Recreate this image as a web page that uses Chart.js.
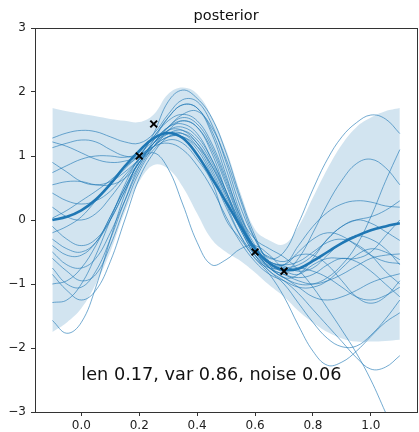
<!DOCTYPE html>
<html>
<head>
<meta charset="utf-8">
<script src="https://cdn.jsdelivr.net/npm/chart.js@4"></script>
<style>
  body { margin: 0; background: #fff; }
  #wrap { width: 419px; height: 432px; overflow: hidden; }
</style>
</head>
<body>
<div id="wrap"><canvas id="gp" width="424" height="432"></canvas></div>
<script>
// x grid the curves were read on
const xs = [-0.1, -0.05, 0, 0.05, 0.1, 0.15, 0.2, 0.25, 0.3, 0.35, 0.4, 0.45, 0.5, 0.55, 0.6, 0.65, 0.7, 0.75, 0.8, 0.85, 0.9, 0.95, 1.0, 1.05, 1.1];

const meanY  = [0.0, 0.05, 0.15, 0.32, 0.56, 0.84, 1.08, 1.28, 1.36, 1.28, 1.02, 0.66, 0.28, -0.1, -0.45, -0.68, -0.78, -0.76, -0.64, -0.5, -0.36, -0.25, -0.16, -0.1, -0.05];
const upperY = [1.75, 1.7, 1.66, 1.62, 1.58, 1.55, 1.53, 1.65, 1.97, 2.07, 1.97, 1.62, 1.1, 0.42, -0.15, -0.32, -0.38, -0.1, 0.35, 0.8, 1.18, 1.45, 1.6, 1.7, 1.75];
const lowerY = [-1.75, -1.6, -1.38, -1.0, -0.5, 0.12, 0.6, 0.86, 0.8, 0.52, 0.1, -0.3, -0.5, -0.64, -0.82, -1.02, -1.2, -1.42, -1.6, -1.75, -1.85, -1.9, -1.9, -1.89, -1.87];

// posterior samples
const s01 = [1.28, 1.36, 1.4, 1.38, 1.3, 1.22, 1.2, 1.35, 1.65, 1.88, 1.85, 1.5, 0.9, 0.2, -0.3, -0.6, -0.5, -0.05, 0.48, 0.95, 1.3, 1.52, 1.64, 1.58, 1.35];
const s02 = [1.22, 1.15, 1.05, 0.95, 0.9, 0.92, 1.0, 1.2, 1.45, 1.6, 1.5, 1.15, 0.6, 0.0, -0.45, -0.75, -0.85, -0.95, -1.0, -0.95, -0.85, -0.72, -0.6, -0.55, -0.53];
const s03 = [1.13, 1.2, 1.25, 1.22, 1.1, 1.0, 1.0, 1.15, 1.4, 1.55, 1.45, 1.05, 0.45, -0.1, -0.5, -0.68, -0.7, -0.4, -0.1, 0.12, 0.25, 0.3, 0.28, 0.22, 0.2];
const s04 = [0.74, 0.85, 0.95, 1.0, 1.0, 0.98, 1.05, 1.3, 1.6, 1.8, 1.75, 1.35, 0.7, 0.05, -0.3, -0.45, -0.58, -0.78, -1.05, -1.38, -1.72, -2.08, -2.5, -3.0, -3.5];
const s05 = [0.42, 0.3, 0.25, 0.3, 0.45, 0.7, 0.95, 1.2, 1.45, 1.65, 1.7, 1.45, 0.95, 0.3, -0.3, -0.65, -0.8, -0.6, -0.2, 0.25, 0.62, 0.88, 0.95, 0.82, 0.55];
const s06 = [0.2, 0.05, 0.0, 0.1, 0.35, 0.65, 0.95, 1.2, 1.35, 1.35, 1.15, 0.75, 0.25, -0.25, -0.6, -0.75, -0.75, -0.7, -0.55, -0.3, -0.1, 0.0, -0.05, -0.18, -0.32];
const s07 = [0.03, 0.15, 0.3, 0.45, 0.62, 0.82, 1.02, 1.25, 1.45, 1.55, 1.45, 1.1, 0.55, -0.02, -0.45, -0.65, -0.7, -0.5, -0.3, -0.2, -0.25, -0.4, -0.55, -0.65, -0.68];
const s08 = [-0.1, -0.3, -0.4, -0.3, 0.0, 0.45, 0.9, 1.05, 0.8, 0.25, -0.35, -0.7, -0.62, -0.45, -0.4, -0.55, -0.75, -0.75, -0.8, -0.9, -1.05, -1.2, -1.25, -1.18, -1.05];
const s09 = [-0.3, -0.45, -0.5, -0.35, 0.0, 0.45, 0.85, 1.15, 1.35, 1.4, 1.25, 0.9, 0.4, -0.1, -0.5, -0.72, -0.8, -0.85, -0.7, -0.6, -0.6, -0.6, -0.5, -0.25, 0.0];
const s10 = [-0.5, -0.7, -0.75, -0.6, -0.2, 0.3, 0.8, 1.15, 1.4, 1.45, 1.3, 0.95, 0.45, -0.05, -0.42, -0.58, -0.65, -0.55, -0.55, -0.7, -0.95, -1.2, -1.3, -1.2, -0.95];
const s11 = [-0.6, -0.8, -0.95, -0.85, -0.4, 0.2, 0.75, 1.1, 1.25, 1.2, 0.95, 0.6, 0.0, -0.3, -0.6, -0.85, -1.2, -1.65, -2.05, -2.27, -2.22, -2.05, -1.82, -1.6, -1.45];
const s12 = [-0.75, -1.0, -1.05, -0.8, -0.3, 0.3, 0.85, 1.2, 1.4, 1.4, 1.2, 0.8, 0.3, -0.15, -0.55, -0.8, -1.0, -1.3, -1.6, -1.85, -1.98, -1.97, -1.8, -1.55, -1.25];
const s13 = [-0.85, -1.1, -1.25, -1.1, -0.65, 0.0, 0.65, 1.05, 1.3, 1.35, 1.2, 0.85, 0.35, -0.15, -0.55, -0.8, -0.95, -1.15, -1.4, -1.65, -1.9, -2.15, -2.33, -2.3, -2.12];
const s14 = [-1.0, -0.95, -0.75, -0.4, 0.05, 0.5, 0.9, 1.15, 1.3, 1.3, 1.15, 0.85, 0.4, -0.1, -0.5, -0.75, -0.9, -1.0, -1.0, -0.9, -0.7, -0.4, 0.05, 0.6, 1.1];
const s15 = [-1.29, -1.25, -1.0, -0.55, 0.0, 0.55, 0.98, 1.3, 1.55, 1.65, 1.55, 1.2, 0.65, 0.05, -0.45, -0.75, -0.9, -1.05, -1.2, -1.25, -1.2, -1.1, -0.98, -0.9, -0.84];
const s16 = [-1.57, -1.77, -1.6, -1.05, -0.3, 0.4, 0.95, 1.35, 1.85, 2.03, 1.9, 1.6, 1.05, 0.35, -0.25, -0.7, -0.9, -0.85, -0.6, -0.3, -0.1, 0.0, 0.05, 0.15, 0.3];
const s17 = [0.9, 0.75, 0.6, 0.55, 0.6, 0.75, 0.95, 1.15, 1.3, 1.3, 1.1, 0.7, 0.2, -0.25, -0.55, -0.75, -0.85, -0.9, -0.85, -0.7, -0.6, -0.65, -0.8, -1.0, -1.2];
const s18 = [0.55, 0.6, 0.6, 0.55, 0.55, 0.65, 0.9, 1.25, 1.6, 1.8, 1.75, 1.4, 0.8, 0.1, -0.4, -0.65, -0.7, -0.65, -0.5, -0.35, -0.3, -0.38, -0.55, -0.8, -1.0];
const s19 = [-0.2, -0.1, 0.05, 0.3, 0.55, 0.8, 1.0, 1.15, 1.2, 1.1, 0.85, 0.5, 0.05, -0.35, -0.65, -0.85, -0.95, -1.05, -1.05, -0.95, -0.75, -0.55, -0.45, -0.5, -0.62];
const s20 = [-0.4, -0.55, -0.55, -0.35, 0.05, 0.5, 0.9, 1.2, 1.45, 1.5, 1.35, 0.95, 0.45, -0.05, -0.45, -0.65, -0.72, -0.8, -0.75, -0.55, -0.35, -0.25, -0.3, -0.45, -0.7];
const samples = [s01, s02, s03, s04, s05, s06, s07, s08, s09, s10, s11, s12, s13, s14, s15, s16, s17, s18, s19, s20];

// training points
const obsX = [0.2, 0.25, 0.6, 0.7];
const obsY = [1.0, 1.5, -0.5, -0.8];

const xTicks = [0.0, 0.2, 0.4, 0.6, 0.8, 1.0];
const yTicks = [-3, -2, -1, 0, 1, 2, 3];

const titleText = "posterior";
const infoText = "len 0.17, var 0.86, noise 0.06";

const blue = "#1f77b4";
const pts = (ys) => xs.map((x, i) => ({ x: x, y: ys[i] }));

const datasets = [];

// points on top
datasets.push({
  type: "scatter",
  data: obsX.map((x, i) => ({ x: x, y: obsY[i] })),
  pointStyle: "crossRot",
  pointRadius: 4.8,
  pointBorderWidth: 2,
  pointBorderColor: "#000",
  pointBackgroundColor: "#000",
  showLine: false,
  order: 0
});

// mean
datasets.push({
  data: pts(meanY),
  borderColor: blue,
  borderWidth: 2.6,
  pointRadius: 0,
  tension: 0.4,
  fill: false,
  order: 1
});

// samples
samples.forEach((s) => {
  datasets.push({
    data: pts(s),
    borderColor: "rgba(31,119,180,0.62)",
    borderWidth: 1,
    pointRadius: 0,
    tension: 0.4,
    fill: false,
    order: 2
  });
});

// band: upper fills down to lower
datasets.push({
  data: pts(upperY),
  borderWidth: 0,
  borderColor: "rgba(0,0,0,0)",
  backgroundColor: "rgba(31,119,180,0.2)",
  pointRadius: 0,
  tension: 0.4,
  fill: "+1",
  order: 3
});
datasets.push({
  data: pts(lowerY),
  borderWidth: 0,
  borderColor: "rgba(0,0,0,0)",
  pointRadius: 0,
  tension: 0.4,
  fill: false,
  order: 4
});

// title, top/right spines and the parameter text
const extras = {
  id: "extras",
  afterDraw(chart) {
    const { ctx, chartArea: a, scales } = chart;
    ctx.save();
    ctx.strokeStyle = "#333";
    ctx.lineWidth = 1;
    ctx.beginPath();
    ctx.moveTo(a.left, Math.round(a.top) + 0.5);
    ctx.lineTo(a.right, Math.round(a.top) + 0.5);
    ctx.moveTo(Math.round(a.right) + 0.5, a.top);
    ctx.lineTo(Math.round(a.right) + 0.5, a.bottom);
    ctx.stroke();

    ctx.fillStyle = "#111";
    ctx.font = "14.5px 'DejaVu Sans'";
    ctx.textAlign = "center";
    ctx.textBaseline = "alphabetic";
    ctx.fillText(titleText, (a.left + a.right) / 2, a.top - 8);

    ctx.font = "17.7px 'DejaVu Sans'";
    ctx.textAlign = "left";
    ctx.fillText(infoText, scales.x.getPixelForValue(0), scales.y.getPixelForValue(-2.5));
    ctx.restore();
  }
};

new Chart(document.getElementById("gp"), {
  type: "line",
  data: { datasets: datasets },
  options: {
    responsive: false,
    animation: false,
    devicePixelRatio: 1,
    layout: { padding: { top: 28, right: 3, left: 0, bottom: 0 } },
    plugins: { legend: { display: false }, tooltip: { enabled: false }, title: { display: false } },
    scales: {
      x: {
        type: "linear",
        min: -0.16,
        max: 1.16,
        afterBuildTicks: (ax) => { ax.ticks = xTicks.map((v) => ({ value: v })); },
        afterFit: (ax) => { ax.height = 20; },
        ticks: {
          autoSkip: false,
          maxRotation: 0,
          padding: 3,
          color: "#222",
          font: { family: "DejaVu Sans", size: 12 },
          callback: (v) => v.toFixed(1)
        },
        grid: { drawOnChartArea: false, tickLength: 4, tickColor: "#333" },
        border: { color: "#333", width: 1 }
      },
      y: {
        type: "linear",
        min: -3,
        max: 3,
        afterBuildTicks: (ax) => { ax.ticks = yTicks.map((v) => ({ value: v })); },
        afterFit: (ax) => { ax.width = 35; },
        ticks: {
          padding: 5,
          color: "#222",
          font: { family: "DejaVu Sans", size: 12 },
          callback: (v) => (v < 0 ? "\u2212" + Math.abs(v) : String(v))
        },
        grid: { drawOnChartArea: false, tickLength: 4, tickColor: "#333" },
        border: { color: "#333", width: 1 }
      }
    }
  },
  plugins: [extras]
});
</script>
</body>
</html>
